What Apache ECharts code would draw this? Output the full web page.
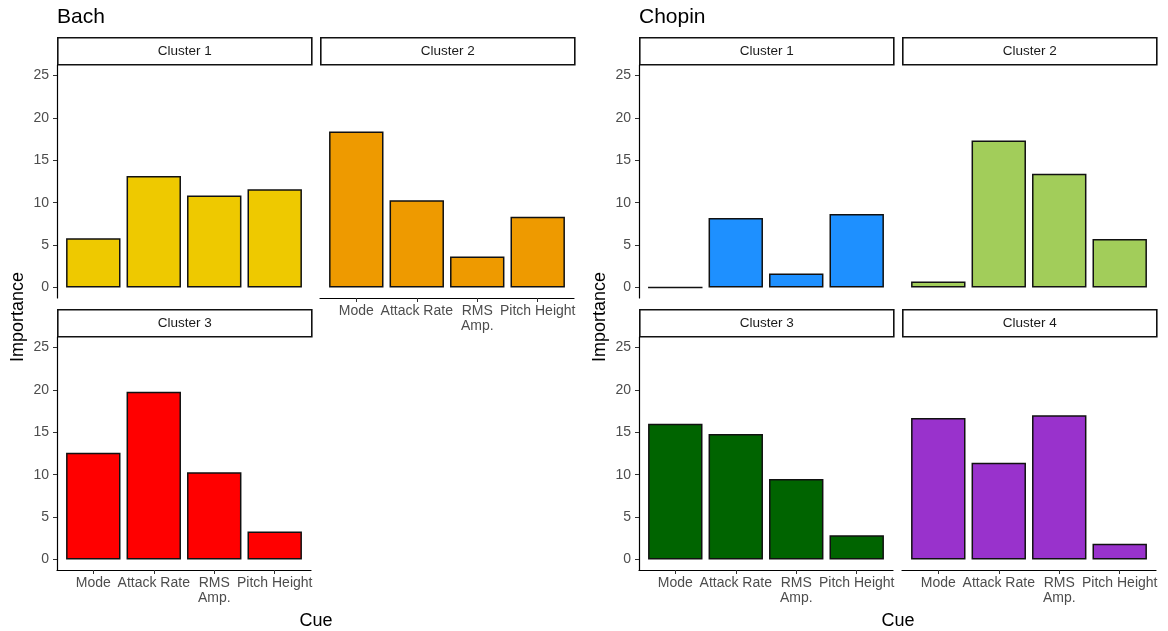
<!DOCTYPE html>
<html>
<head>
<meta charset="utf-8">
<script src="https://cdn.jsdelivr.net/npm/echarts@6/dist/echarts.min.js"></script>
<style>
html,body{margin:0;padding:0;background:#fff;}
#chart{width:1168px;height:631px;}
</style>
</head>
<body>
<div id="chart"></div>
<script>
// ---- data ----
const cues = ['Mode', 'Attack Rate', 'RMS\nAmp.', 'Pitch Height'];
const yTicks = [0, 5, 10, 15, 20, 25];
const bachC1 = [5.8, 13.15, 10.85, 11.6];
const bachC2 = [18.4, 10.3, 3.65, 8.35];
const bachC3 = [12.6, 19.8, 10.3, 3.3];
const chopinC1 = [0, 8.2, 1.65, 8.65];
const chopinC2 = [0.7, 17.35, 13.4, 5.7];
const chopinC3 = [16.0, 14.8, 9.5, 2.85];
const chopinC4 = [16.7, 11.4, 17.0, 1.85];
const groupTitles = ['Bach', 'Chopin'];
const yName = 'Importance';
const xName = 'Cue';

// ---- layout ----
const FONT = "'Liberation Sans', Arial, sans-serif";
const PW = 254, PH = 233;
const rowTop = [65, 337];
const stripTop = [37, 309];
const stripH = 27;
const bachX = [57, 320];
const chopX = [639, 902];

const panels = [
  {label: 'Cluster 1', data: bachC1, color: '#EEC900', x: bachX[0], row: 0, yAxis: true,  xAxis: false},
  {label: 'Cluster 2', data: bachC2, color: '#EE9A00', x: bachX[1], row: 0, yAxis: false, xAxis: true},
  {label: 'Cluster 3', data: bachC3, color: '#FF0000', x: bachX[0], row: 1, yAxis: true,  xAxis: true},
  {label: 'Cluster 1', data: chopinC1, color: '#1E90FF', x: chopX[0], row: 0, yAxis: true,  xAxis: false},
  {label: 'Cluster 2', data: chopinC2, color: '#A2CD5A', x: chopX[1], row: 0, yAxis: false, xAxis: false},
  {label: 'Cluster 3', data: chopinC3, color: '#006400', x: chopX[0], row: 1, yAxis: true,  xAxis: true},
  {label: 'Cluster 4', data: chopinC4, color: '#9932CC', x: chopX[1], row: 1, yAxis: false, xAxis: true}
];

const grids = [], xAxes = [], yAxes = [], series = [], graphics = [];
const barW = PW / 4.2 * 0.9;
panels.forEach((p, i) => {
  grids.push({left: p.x, top: rowTop[p.row], width: PW, height: PH, containLabel: false, outerBoundsMode: 'none'});
  xAxes.push({
    type: 'value', gridIndex: i, min: 0.4, max: 4.6,
    splitLine: {show: false},
    axisLine: {show: p.xAxis, onZero: false, lineStyle: {color: '#000', width: 1.2}},
    axisTick: {show: p.xAxis, length: 4, customValues: [1, 2, 3, 4], lineStyle: {color: '#333'}},
    axisLabel: {show: p.xAxis, customValues: [1, 2, 3, 4], margin: 6,
      formatter: v => cues[Math.round(v) - 1] || '',
      color: '#4D4D4D', fontSize: 14, fontFamily: FONT, lineHeight: 15}
  });
  yAxes.push({
    type: 'value', gridIndex: i, min: -1.25, max: 26.25,
    splitLine: {show: false},
    axisLine: {show: p.yAxis, onZero: false, lineStyle: {color: '#000', width: 1.2}},
    axisTick: {show: p.yAxis, length: 4, customValues: yTicks, lineStyle: {color: '#333'}},
    axisLabel: {show: p.yAxis, customValues: yTicks, margin: 8,
      color: '#4D4D4D', fontSize: 14, fontFamily: FONT}
  });
  series.push({
    type: 'bar', xAxisIndex: i, yAxisIndex: i,
    data: p.data.map((v, k) => [k + 1, v]),
    barWidth: barW,
    itemStyle: {color: p.color, borderColor: '#111', borderWidth: 1.5},
    emphasis: {disabled: true},
    silent: true
  });
  // strip
  graphics.push({
    type: 'group', left: p.x, top: stripTop[p.row],
    children: [
      {type: 'rect', shape: {x: 0, y: 0, width: PW, height: stripH},
        style: {fill: '#fff', stroke: '#111', lineWidth: 1.6}},
      {type: 'text', x: PW / 2, y: stripH / 2,
        style: {text: p.label, fill: '#1A1A1A', font: '13.5px ' + FONT, align: 'center', verticalAlign: 'middle'}}
    ]
  });
});

// axis titles
[[18, 317], [600, 317]].forEach(([x, y]) => {
  graphics.push({type: 'text', x: x, y: y, rotation: Math.PI / 2,
    style: {text: yName, fill: '#000', font: '18px ' + FONT, align: 'center', verticalAlign: 'middle'}});
});
[[316, 621], [898, 621]].forEach(([x, y]) => {
  graphics.push({type: 'text', x: x, y: y,
    style: {text: xName, fill: '#000', font: '18px ' + FONT, align: 'center', verticalAlign: 'middle'}});
});

const option = {
  animation: false,
  backgroundColor: '#fff',
  title: [
    {text: groupTitles[0], left: 57, top: 7, padding: 0, textStyle: {fontSize: 21, fontWeight: 'normal', color: '#000', fontFamily: FONT}},
    {text: groupTitles[1], left: 639, top: 7, padding: 0, textStyle: {fontSize: 21, fontWeight: 'normal', color: '#000', fontFamily: FONT}}
  ],
  grid: grids,
  xAxis: xAxes,
  yAxis: yAxes,
  series: series,
  graphic: graphics
};

const chart = echarts.init(document.getElementById('chart'), null, {renderer: 'canvas'});
chart.setOption(option);
</script>
</body>
</html>
